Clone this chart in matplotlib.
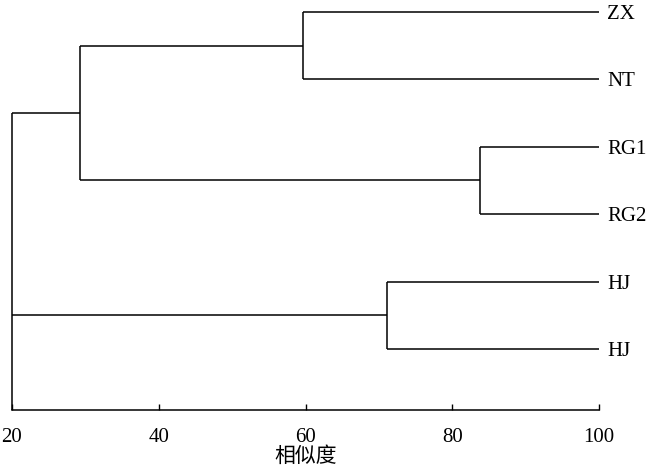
import matplotlib
matplotlib.use("Agg")
import matplotlib.pyplot as plt

# leaves, top to bottom
leaves = ["ZX", "NT", "RG1", "RG2", "HJ", "HJ"]
# merges: (left child, right child, similarity) ; children are leaf idx or "n<k>"
merges = [
    (0, 1, 59.7),      # n0: ZX + NT
    (2, 3, 83.8),      # n1: RG1 + RG2
    (4, 5, 71.1),      # n2: HJ + HJ
    ("n0", "n1", 29.3),  # n3
    ("n3", "n2", 20.0),  # root
]
xticks = [20, 40, 60, 80, 100]

plt.rcParams["font.family"] = ["Liberation Serif", "Noto Sans CJK SC"]
fig = plt.figure(figsize=(6.5, 4.74), dpi=100)
ax = fig.add_axes([12 / 650, 64 / 474, 587 / 650, 410 / 474])

n = len(leaves)
ypos = {i: n - i for i in range(n)}
xpos = {i: 100.0 for i in range(n)}
ymin = 0.095
lw = 1.1
kw = dict(color="black", lw=lw, solid_capstyle="butt", clip_on=False)
for k, (a, b, s) in enumerate(merges):
    ya, yb = ypos[a], ypos[b]
    ax.plot([s, xpos[a]], [ya, ya], **kw)
    ax.plot([s, xpos[b]], [yb, yb], **kw)
    if k == len(merges) - 1:
        ax.plot([s, s], [max(ya, yb), ymin], **kw)
    else:
        ax.plot([s, s], [ya, yb], **kw)
    ypos["n%d" % k] = (ya + yb) / 2
    xpos["n%d" % k] = s

ax.set_xlim(20, 100)
ax.set_ylim(ymin, n + 0.178)
for sp in ("top", "right", "left"):
    ax.spines[sp].set_visible(False)
ax.spines["bottom"].set_linewidth(lw)
ax.set_xticks(xticks)
ax.set_xticklabels([str(t) for t in xticks])
ax.tick_params(axis="x", direction="in", length=4, width=1, labelsize=15, pad=13)
ax.yaxis.tick_right()
ax.set_yticks([ypos[i] for i in range(n)])
ax.set_yticklabels(leaves)
ax.tick_params(axis="y", length=0, labelsize=15, pad=6)
ax.set_xlabel("相似度", fontsize=15, labelpad=0)

fig.savefig("out.png", dpi=100)
